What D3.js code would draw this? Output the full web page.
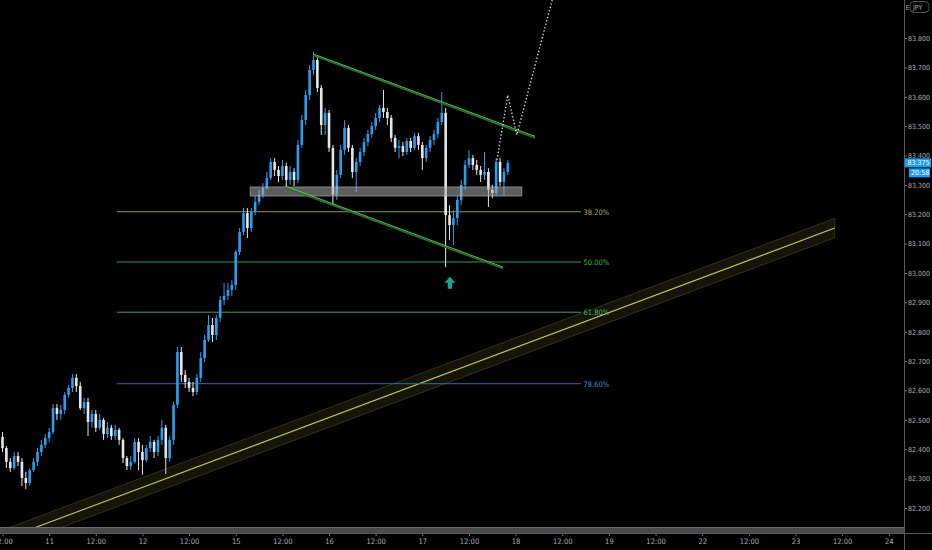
<!DOCTYPE html>
<html><head><meta charset="utf-8">
<script src="https://cdn.jsdelivr.net/npm/d3@7"></script>
<style>
html,body{margin:0;padding:0;background:#000;}
svg{display:block;}
text{font-family:"DejaVu Sans Condensed","Liberation Sans",Arial,sans-serif;}
</style></head>
<body>
<svg id="c" width="932" height="550"></svg>
<script>
// ---- data ----
// hourly USDJPY candles, index 0 = 10th 12:00 (trading hours only, weekend skipped)
const opens = [82.442,82.404,82.357,82.336,82.377,82.357,82.302,82.285,82.329,82.357,
82.391,82.415,82.438,82.459,82.540,82.520,82.534,82.585,82.609,82.643,
82.615,82.540,82.561,82.493,82.520,82.473,82.500,82.452,82.473,82.445,
82.466,82.432,82.370,82.343,82.357,82.425,82.391,82.363,82.404,82.425,
82.391,82.432,82.473,82.370,82.432,82.551,82.731,82.653,82.629,82.609,
82.595,82.643,82.711,82.772,82.823,82.789,82.847,82.908,82.922,82.942,
82.959,83.072,83.140,83.204,83.153,83.208,83.242,83.266,83.289,83.323,
83.378,83.351,83.330,83.364,83.317,83.344,83.317,83.436,83.521,83.606,
83.691,83.725,83.630,83.504,83.545,83.426,83.266,83.334,83.419,83.494,
83.426,83.344,83.378,83.412,83.446,83.473,83.500,83.528,83.562,83.548,
83.528,83.460,83.426,83.432,83.412,83.449,83.426,83.466,83.436,83.391,
83.426,83.453,83.473,83.514,83.545,83.197,83.163,83.187,83.249,83.300,
83.368,83.391,83.368,83.351,83.334,83.344,83.283,83.272,83.378,83.310,
83.344];
const highs = [82.459,82.411,82.370,82.391,82.391,82.370,82.323,82.336,82.370,82.404,
82.432,82.452,82.473,82.554,82.554,82.551,82.595,82.619,82.656,82.656,
82.629,82.575,82.575,82.534,82.534,82.520,82.506,82.493,82.483,82.483,
82.473,82.438,82.377,82.377,82.438,82.438,82.415,82.415,82.445,82.432,
82.445,82.500,82.483,82.445,82.561,82.748,82.748,82.670,82.643,82.629,
82.656,82.731,82.789,82.857,82.847,82.857,82.922,82.966,82.966,82.976,
83.078,83.153,83.221,83.221,83.221,83.262,83.283,83.306,83.344,83.391,
83.391,83.364,83.385,83.374,83.364,83.357,83.453,83.538,83.623,83.708,
83.752,83.739,83.640,83.562,83.555,83.436,83.351,83.436,83.521,83.504,
83.436,83.391,83.426,83.460,83.487,83.514,83.545,83.572,83.623,83.562,
83.538,83.470,83.453,83.446,83.460,83.460,83.477,83.477,83.446,83.436,
83.466,83.487,83.528,83.616,83.562,83.231,83.214,83.262,83.317,83.385,
83.419,83.402,83.385,83.364,83.412,83.357,83.300,83.391,83.391,83.357,
83.385];
const lows = [82.391,82.336,82.323,82.329,82.343,82.275,82.265,82.275,82.323,82.343,
82.377,82.404,82.425,82.452,82.500,82.500,82.520,82.575,82.595,82.595,
82.534,82.520,82.445,82.473,82.459,82.466,82.432,82.438,82.432,82.432,
82.415,82.353,82.329,82.329,82.353,82.329,82.313,82.357,82.391,82.370,
82.377,82.415,82.316,82.357,82.415,82.540,82.629,82.609,82.595,82.581,
82.585,82.629,82.697,82.765,82.765,82.772,82.833,82.891,82.908,82.922,
82.942,83.061,83.129,83.119,83.140,83.197,83.231,83.255,83.283,83.317,
83.330,83.310,83.317,83.289,83.300,83.296,83.306,83.426,83.504,83.589,
83.674,83.616,83.470,83.470,83.412,83.231,83.249,83.323,83.402,83.412,
83.323,83.276,83.364,83.398,83.432,83.460,83.487,83.514,83.528,83.504,
83.446,83.412,83.391,83.398,83.402,83.412,83.419,83.419,83.351,83.378,
83.412,83.436,83.460,83.504,83.020,83.112,83.095,83.163,83.231,83.283,
83.357,83.351,83.334,83.310,83.317,83.225,83.255,83.262,83.296,83.262,
83.334];
const closes = [82.404,82.357,82.336,82.377,82.357,82.302,82.285,82.329,82.357,82.391,
82.415,82.438,82.459,82.540,82.520,82.534,82.585,82.609,82.643,82.615,
82.540,82.561,82.493,82.520,82.473,82.500,82.452,82.473,82.445,82.466,
82.432,82.370,82.343,82.357,82.425,82.391,82.363,82.404,82.425,82.391,
82.432,82.473,82.370,82.432,82.551,82.731,82.653,82.629,82.609,82.595,
82.643,82.711,82.772,82.823,82.789,82.847,82.908,82.922,82.942,82.959,
83.072,83.140,83.204,83.153,83.208,83.242,83.266,83.289,83.323,83.378,
83.351,83.330,83.364,83.317,83.344,83.317,83.436,83.521,83.606,83.691,
83.725,83.630,83.504,83.545,83.426,83.266,83.334,83.419,83.494,83.426,
83.344,83.378,83.412,83.446,83.473,83.500,83.528,83.562,83.548,83.528,
83.460,83.426,83.432,83.412,83.449,83.426,83.466,83.436,83.391,83.426,
83.453,83.473,83.514,83.545,83.197,83.163,83.187,83.249,83.300,83.368,
83.391,83.368,83.351,83.334,83.344,83.283,83.272,83.378,83.310,83.344,
83.375];

const timeTickIdx = [0,12,24,36,48,60,72,84,96,108,120,132,144,156,168,180,192,204,216,228];
const timeTickLabels = ["12:00","11","12:00","12","12:00","15","12:00","16","12:00","17","12:00","18","12:00","19","12:00","22","12:00","23","12:00","24"];
const priceTicks = [82.2,82.3,82.4,82.5,82.6,82.7,82.8,82.9,83.0,83.1,83.2,83.3,83.4,83.5,83.6,83.7,83.8];

const fibHigh = 83.762, fibLow = 82.313;
const fibLevels = [0.382, 0.5, 0.618, 0.786];
const fibLabels = ["38.20%","50.00%","61.80%","78.60%"];
const fibSpan = [29.4, 148.8];

const channelUpper = [[79.9, 83.746],[137.0, 83.465]];
const channelLower = [[72.7, 83.296],[128.8, 83.020]];
const supportZone = {i0: 63.7, i1: 133.6, pLow: 83.262, pHigh: 83.293};
const projection = [[127.2, 83.385],[130.0, 83.606],[132.3, 83.470],[141.4, 83.929]];
const trendLine = [[5.3, 82.118],[214.1, 83.153]];
const trendBandHalf = 0.033;
const arrowAt = {i: 115.1, p: 82.987};
const lastPrice = 83.375, countdown = "20:58";

// ---- drawing ----
const W = 932, H = 550, axisX = 904, axisY = 533;
const svg = d3.select("#c");
svg.append("rect").attr("width",W).attr("height",H).attr("fill","#000");

const x = d3.scaleLinear().domain([0,228]).range([2.5,888.8]);
const y = d3.scaleLinear().domain([82.2,83.8]).range([508,38]);

svg.append("clipPath").attr("id","plot").append("rect")
  .attr("x",0).attr("y",0).attr("width",axisX).attr("height",527);
const g = svg.append("g").attr("clip-path","url(#plot)");

// rising trend band
const t0 = trendLine[0], t1 = trendLine[1];
const slope = (t1[1]-t0[1])/(t1[0]-t0[0]);
const leftI = -12;
const pl = t0[1] + slope*(leftI - t0[0]);
const band = [
  [x(leftI), y(pl+trendBandHalf)], [x(t1[0]), y(t1[1]+trendBandHalf)],
  [x(t1[0]), y(t1[1]-trendBandHalf)], [x(leftI), y(pl-trendBandHalf)]
];
g.append("path").attr("d", d3.line()(band)+"Z")
  .attr("fill","rgba(90,90,35,0.22)").attr("stroke","#33331a").attr("stroke-width",1);
g.append("line").attr("x1",x(leftI)).attr("y1",y(pl)).attr("x2",x(t1[0])).attr("y2",y(t1[1]))
  .attr("stroke","#c9c94a").attr("stroke-width",1.1);

// fib lines
const fibColors = ["#8f9a45","#3f9b3f","#3f9f6a","#2d6f9f"];
const fibText = ["#a8aa55","#4cb34c","#4cb383","#3a8fd0"];
fibLevels.forEach((lv,k)=>{
  const p = fibHigh - lv*(fibHigh-fibLow);
  g.append("line").attr("x1",x(fibSpan[0])).attr("x2",x(fibSpan[1]))
    .attr("y1",y(p)).attr("y2",y(p)).attr("stroke",fibColors[k]).attr("stroke-width",1);
  g.append("text").attr("x",x(fibSpan[1])+2.5).attr("y",y(p)+3)
    .attr("fill",fibText[k]).attr("font-size",7.5).text(fibLabels[k]);
});

// candles
const data = closes.map((c,i)=>({i, o:opens[i], h:highs[i], l:lows[i], c}));
const up = "#2a9ff0", dn = "#e6e6e6";
const cg = g.append("g");
cg.selectAll("line.w").data(data).join("line")
  .attr("x1",d=>x(d.i)).attr("x2",d=>x(d.i))
  .attr("y1",d=>y(d.h)).attr("y2",d=>y(d.l))
  .attr("stroke",d=>d.c>=d.o?up:dn).attr("stroke-width",1);
cg.selectAll("rect.b").data(data).join("rect")
  .attr("x",d=>x(d.i)-1.3).attr("width",2.6)
  .attr("y",d=>y(Math.max(d.o,d.c)))
  .attr("height",d=>Math.max(1,Math.abs(y(d.o)-y(d.c))))
  .attr("fill",d=>d.c>=d.o?up:dn);

// support zone
g.append("rect").attr("x",x(supportZone.i0)).attr("width",x(supportZone.i1)-x(supportZone.i0))
  .attr("y",y(supportZone.pHigh)).attr("height",y(supportZone.pLow)-y(supportZone.pHigh))
  .attr("fill","rgba(170,170,170,0.55)").attr("stroke","rgba(210,210,210,0.6)").attr("stroke-width",0.8);

// descending channel
[channelUpper, channelLower].forEach(seg=>{
  g.append("line").attr("x1",x(seg[0][0])).attr("y1",y(seg[0][1])+1.5)
    .attr("x2",x(seg[1][0])).attr("y2",y(seg[1][1])+1.5)
    .attr("stroke","#2e6e2e").attr("stroke-width",1.6);
  g.append("line").attr("x1",x(seg[0][0])).attr("y1",y(seg[0][1]))
    .attr("x2",x(seg[1][0])).attr("y2",y(seg[1][1]))
    .attr("stroke","#4fc94f").attr("stroke-width",1);
});

// projected path
g.append("path").attr("d", d3.line().x(d=>x(d[0])).y(d=>y(d[1]))(projection))
  .attr("fill","none").attr("stroke","#e8e8e8").attr("stroke-width",1.3)
  .attr("stroke-dasharray","1.3,2.2");

// arrow
const ax = x(arrowAt.i), ay = y(arrowAt.p);
g.append("path")
  .attr("d",`M${ax},${ay} L${ax+5.5},${ay+6} L${ax+2.2},${ay+6} L${ax+2.2},${ay+12} L${ax-2.2},${ay+12} L${ax-2.2},${ay+6} L${ax-5.5},${ay+6} Z`)
  .attr("fill","#1fa391");

// bottom scrollbar band
svg.append("rect").attr("x",0).attr("y",527).attr("width",axisX).attr("height",6)
  .attr("fill","#4a4a4a");
svg.append("line").attr("x1",0).attr("x2",axisX).attr("y1",527.5).attr("y2",527.5).attr("stroke","#6a6a6a");

// axes
const ya = svg.append("g").attr("transform",`translate(${axisX},0)`)
  .call(d3.axisRight(y).tickValues(priceTicks).tickFormat(d3.format(".3f")).tickSize(3).tickPadding(1));
ya.select(".domain").remove();
ya.selectAll("line").attr("stroke","#777");
ya.selectAll("text").attr("fill","#a9adb5").attr("font-size",7);

const xa = svg.append("g").attr("transform",`translate(0,${axisY})`)
  .call(d3.axisBottom(x).tickValues(timeTickIdx).tickFormat((d,i)=>timeTickLabels[i]).tickSize(3).tickPadding(3));
xa.select(".domain").remove();
xa.selectAll("line").attr("stroke","#777");
xa.selectAll("text").attr("fill","#a9adb5").attr("font-size",7.5);

svg.append("line").attr("x1",axisX+0.5).attr("x2",axisX+0.5).attr("y1",0).attr("y2",H).attr("stroke","#5a5a5a");
svg.append("line").attr("x1",0).attr("x2",W).attr("y1",axisY+0.5).attr("y2",axisY+0.5).attr("stroke","#5a5a5a");

// last price labels
const ly = y(lastPrice);
svg.append("rect").attr("x",axisX+1).attr("y",ly-4.5).attr("width",26).attr("height",9).attr("fill","#1e9de8");
svg.append("text").attr("x",axisX+3.5).attr("y",ly+2.6).attr("fill","#fff").attr("font-size",7).text(d3.format(".3f")(lastPrice));
svg.append("rect").attr("x",axisX+5).attr("y",ly+5.5).attr("width",21).attr("height",9).attr("fill","#1e9de8");
svg.append("text").attr("x",axisX+7).attr("y",ly+12.6).attr("fill","#fff").attr("font-size",7).text(countdown);

// currency button at top
svg.append("rect").attr("x",910).attr("y",1.5).attr("width",19).attr("height",11).attr("rx",4)
  .attr("fill","none").attr("stroke","#666").attr("stroke-width",0.8);
svg.append("text").attr("x",905.5).attr("y",10).attr("fill","#a9adb5").attr("font-size",7).text("E");
svg.append("text").attr("x",913).attr("y",10).attr("fill","#a9adb5").attr("font-size",7).text("JPY");
</script>
</body></html>
